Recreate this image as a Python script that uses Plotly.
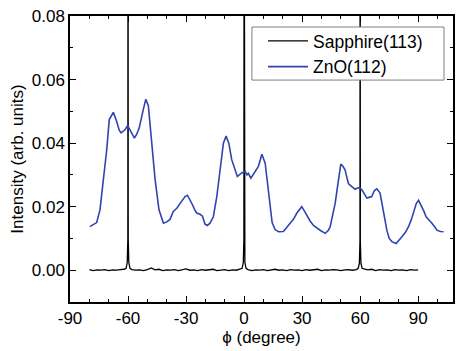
import plotly.graph_objects as go

# ZnO(112) phi scan
zno_phi = [-79.7, -77.5, -76.2, -74.5, -72.8, -71.0, -69.7, -68.5, -67.6, -65.9,
           -64.5, -63.6, -61.6, -60.2, -59.0, -57.8, -56.7, -55.5, -54.2, -52.1,
           -50.8, -49.5, -47.7, -46.0, -44.0, -41.7, -40.0, -38.3, -36.6, -34.8,
           -32.5, -30.5, -29.3, -28.2, -27.0, -25.5, -24.5, -22.8, -21.5, -20.2,
           -19.0, -17.6, -15.9, -14.1, -12.4, -10.7, -9.3, -7.9, -6.4, -5.2,
           -3.5, -1.2, 0.5, 1.5, 2.2, 3.5, 5.7, 7.4, 9.2, 10.9,
           12.0, 13.1, 14.5, 16.0, 17.8, 20.3, 22.0, 23.8, 25.5, 27.3,
           29.8, 31.6, 33.0, 34.1, 36.0, 37.6, 39.5, 41.9, 43.5, 44.5,
           46.0, 47.1, 48.8, 50.0, 51.0, 52.2, 53.2, 54.0, 55.7, 57.4,
           58.3, 59.6, 60.9, 62.0, 63.5, 65.0, 66.0, 67.3, 68.6, 70.3,
           72.1, 73.8, 75.0, 76.4, 78.6, 80.0, 81.6, 83.5, 85.0, 86.5,
           87.6, 89.0, 90.2, 91.9, 93.0, 94.1, 95.5, 97.1, 98.5, 99.7,
           101.5, 103.1]
zno_int = [0.0137, 0.0145, 0.0150, 0.0190, 0.0274, 0.0380, 0.0474, 0.0490, 0.0497, 0.0469,
           0.0440, 0.0432, 0.0442, 0.0455, 0.0442, 0.0425, 0.0416, 0.0428, 0.0448, 0.0506,
           0.0538, 0.0518, 0.0410, 0.0285, 0.0190, 0.0148, 0.0152, 0.0160, 0.0185, 0.0195,
           0.0215, 0.0232, 0.0236, 0.0225, 0.0210, 0.0190, 0.0180, 0.0176, 0.0170, 0.0145,
           0.0141, 0.0148, 0.0168, 0.0232, 0.0327, 0.0400, 0.0422, 0.0400, 0.0348, 0.0327,
           0.0295, 0.0306, 0.0311, 0.0300, 0.0305, 0.0290, 0.0311, 0.0327, 0.0365, 0.0337,
           0.0280, 0.0215, 0.0150, 0.0128, 0.0121, 0.0122, 0.0135, 0.0148, 0.0160, 0.0180,
           0.0200, 0.0182, 0.0165, 0.0155, 0.0140, 0.0132, 0.0125, 0.0116, 0.0125, 0.0137,
           0.0175, 0.0211, 0.0284, 0.0334, 0.0328, 0.0316, 0.0290, 0.0272, 0.0263, 0.0255,
           0.0258, 0.0260, 0.0253, 0.0240, 0.0227, 0.0230, 0.0232, 0.0250, 0.0256, 0.0243,
           0.0180, 0.0126, 0.0100, 0.0090, 0.0084, 0.0093, 0.0105, 0.0120, 0.0137, 0.0160,
           0.0180, 0.0210, 0.0220, 0.0200, 0.0185, 0.0168, 0.0160, 0.0148, 0.0137, 0.0126,
           0.0122, 0.0121]

# Sapphire(113) phi scan
sap_phi = [-80, -78, -76, -74, -72, -70, -68, -66, -64, -62,
           -61, -60.4, -60.1, -60, -59.9, -59.6, -59,
           -58, -56, -54, -52, -50, -48, -46, -44, -42, -40, -38, -36, -34, -32, -30,
           -28, -26, -24, -22, -20, -18, -16, -14, -12, -10, -8, -6, -4, -2,
           -1, -0.4, -0.1, 0, 0.1, 0.4, 1,
           2, 4, 6, 8, 10, 12, 14, 16, 18, 20, 22, 24, 26, 28, 30, 32, 34,
           36, 38, 40, 42, 44, 46, 48, 50, 52, 54, 56, 58,
           59, 59.6, 59.9, 60, 60.1, 60.4, 61,
           62, 64, 66, 68, 70, 72, 74, 76, 78, 80, 82, 84, 86, 88, 90]
sap_int = [0.0002, -0.0001, 0.0001, 0.0000, 0.0002, -0.0001, 0.0001, 0.0000, 0.0002, 0.0003,
           0.0006, 0.0025, 0.0100, 0.1600, 0.0100, 0.0025, 0.0006,
           0.0002, 0.0000, 0.0001, -0.0001, 0.0002, 0.0007, 0.0001, 0.0003, -0.0001, 0.0001,
           0.0000, 0.0002, -0.0001, 0.0001, 0.0004,
           0.0000, 0.0001, -0.0001, 0.0002, 0.0000, 0.0001, 0.0003, -0.0001, 0.0001, 0.0002,
           -0.0001, 0.0001, 0.0000, 0.0003,
           0.0006, 0.0025, 0.0100, 0.1600, 0.0100, 0.0025, 0.0006,
           0.0002, -0.0001, 0.0001, 0.0000, 0.0002, -0.0001, 0.0001,
           0.0003, 0.0000, 0.0001, -0.0001, 0.0002, 0.0000, 0.0001, -0.0001, 0.0002, 0.0000,
           0.0001, 0.0003, -0.0001, 0.0001, 0.0000, 0.0002, 0.0001, -0.0001, 0.0001, 0.0002,
           0.0000, 0.0002,
           0.0006, 0.0022, 0.0090, 0.1600, 0.0090, 0.0022, 0.0006,
           0.0004, 0.0001, 0.0003, -0.0001, 0.0002, 0.0000, 0.0001, -0.0001, 0.0002, 0.0000,
           0.0001, -0.0001, 0.0002, 0.0000, 0.0001]

x_ticks = [-90, -60, -30, 0, 30, 60, 90]
y_ticks = [0.00, 0.02, 0.04, 0.06, 0.08]
y_tick_labels = ["0.00", "0.02", "0.04", "0.06", "0.08"]

FONT = "Liberation Sans, Arial, sans-serif"

fig = go.Figure()
fig.add_trace(go.Scatter(x=sap_phi, y=sap_int, mode="lines", name="Sapphire(113)",
                         line=dict(color="black", width=1.3)))
fig.add_trace(go.Scatter(x=zno_phi, y=zno_int, mode="lines", name="ZnO(112)",
                         line=dict(color="rgb(48,68,175)", width=1.6)))

axis_common = dict(showline=True, linecolor="black", linewidth=1.5, mirror="allticks",
                   ticks="inside", ticklen=6, tickwidth=1.2, tickcolor="black",
                   showgrid=False, zeroline=False, automargin=False,
                   tickfont=dict(family=FONT, size=17, color="black"))

fig.update_xaxes(range=[-90, 108], tickvals=x_ticks, ticktext=[str(v) for v in x_ticks],
                 minor=dict(dtick=10, tick0=0, ticks="inside", ticklen=3.5, tickwidth=1.2, tickcolor="black"),
                 title=dict(text="ϕ (degree)", font=dict(family=FONT, size=17, color="black"), standoff=4),
                 **axis_common)
fig.update_yaxes(range=[-0.01, 0.08], tickvals=y_ticks, ticktext=y_tick_labels,
                 minor=dict(dtick=0.01, tick0=0, ticks="inside", ticklen=3.5, tickwidth=1.2, tickcolor="black"),
                 title=dict(text="Intensity (arb. units)", font=dict(family=FONT, size=17, color="black"), standoff=4),
                 **axis_common)

# legend frame (white box with gray border, hides the lines behind it)
fig.add_shape(type="rect", xref="paper", yref="paper",
              x0=0.475, x1=0.9765, y0=0.776, y1=0.9615,
              fillcolor="white", line=dict(color="gray", width=1), layer="above")

fig.update_layout(
    width=456, height=351,
    margin=dict(l=70, r=3, t=16, b=49),
    plot_bgcolor="white", paper_bgcolor="white",
    legend=dict(x=0.504, y=0.9755, xanchor="left", yanchor="top",
                bgcolor="rgba(0,0,0,0)", borderwidth=0,
                font=dict(family=FONT, size=17.5, color="black"),
                itemwidth=40, tracegroupgap=0),
    showlegend=True,
)

fig.write_html("out.html", config={"displayModeBar": False},
               post_script="document.body.style.margin='0';document.body.style.padding='0';document.body.style.overflow='hidden';")
